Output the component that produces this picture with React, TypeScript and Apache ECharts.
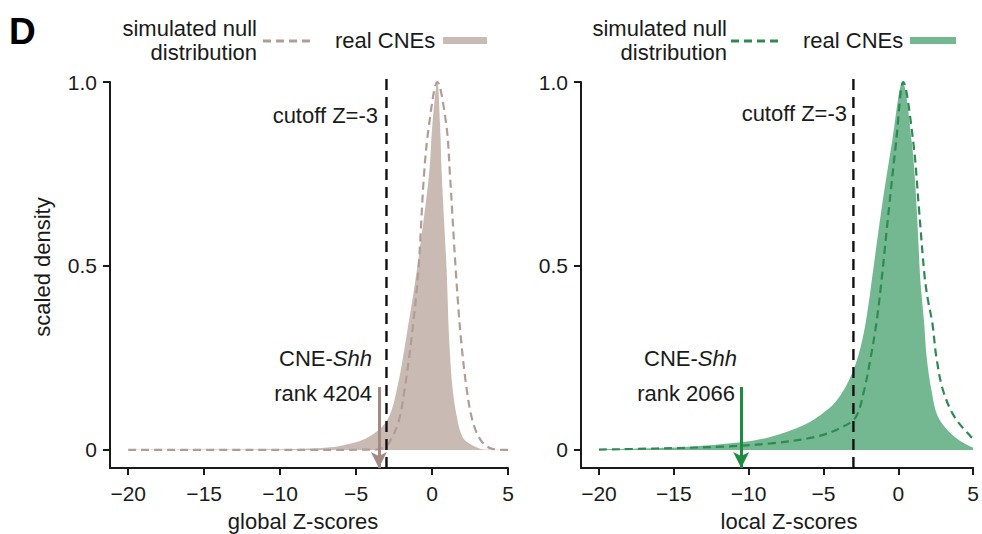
import React, { useEffect, useRef } from "react";
import * as echarts from "echarts";

// ---------- data ----------
const zTicks = [-20, -15, -10, -5, 0, 5];
const densityTicks = [0, 0.5, 1];
const zMin = -21.2;
const zMax = 5;
const densityMin = -0.049;
const densityMax = 1.0;

const cutoffZ = -3;
const cutoffTop = 1.01;

const globalShhZ = -3.5;
const globalShhRank = 4204;
const localShhZ = -10.5;
const localShhRank = 2066;
const arrowTopDensity = 0.171;

// global Z-scores: real CNEs (filled) [z, scaled density]
const globalReal: [number, number][] = [
  [-20, 0], [-15, 0.001], [-10, 0.002], [-8, 0.004], [-6.5, 0.008], [-5.5, 0.016],
  [-4.14, 0.036], [-2.94, 0.082], [-2.28, 0.172], [-1.69, 0.308], [-1.0, 0.489],
  [-0.2, 0.747], [0.02, 0.883], [0.35, 1.0], [0.53, 0.883], [0.64, 0.747],
  [0.96, 0.489], [1.12, 0.308], [1.34, 0.172], [1.67, 0.082], [2.0, 0.036],
  [2.43, 0.018], [3.0, 0.006], [3.5, 0.001], [5, 0],
];
// global Z-scores: simulated null distribution (dashed)
const globalNull: [number, number][] = [
  [-20, 0], [-10, 0], [-4, 0.001], [-3.16, 0.006], [-2.72, 0.027], [-2.17, 0.082],
  [-1.78, 0.172], [-1.34, 0.308], [-0.9, 0.489], [-0.53, 0.747], [-0.2, 0.883],
  [0.35, 1.0], [0.94, 0.883], [1.18, 0.747], [1.56, 0.489], [1.89, 0.308],
  [2.26, 0.172], [2.65, 0.082], [3.2, 0.027], [3.97, 0.003], [5, 0],
];
// local Z-scores: real CNEs (filled)
const localReal: [number, number][] = [
  [-20, 0.002], [-17.3, 0.004], [-14, 0.009], [-10.7, 0.02], [-8.5, 0.036],
  [-6.3, 0.068], [-5.2, 0.095], [-4.1, 0.135], [-3.05, 0.212], [-2.4, 0.3],
  [-2.0, 0.393], [-1.73, 0.474], [-1.12, 0.655], [-0.42, 0.836], [0.28, 1.0],
  [0.9, 0.836], [1.23, 0.655], [1.45, 0.474], [1.6, 0.4], [1.73, 0.343],
  [1.89, 0.253], [2.21, 0.163], [2.65, 0.09], [3.5, 0.045], [4.4, 0.018], [5, 0.006],
];
// local Z-scores: simulated null distribution (dashed)
const localNull: [number, number][] = [
  [-20, 0.001], [-16.2, 0.004], [-11.8, 0.009], [-8.5, 0.018], [-5.5, 0.036],
  [-3.7, 0.063], [-2.83, 0.09], [-2.28, 0.163], [-1.84, 0.253], [-1.47, 0.343],
  [-1.15, 0.45], [-0.63, 0.655], [-0.15, 0.836], [0.33, 1.0], [1.0, 0.836],
  [1.38, 0.655], [1.75, 0.474], [1.97, 0.41], [2.28, 0.343], [2.54, 0.253],
  [2.98, 0.163], [3.75, 0.09], [4.85, 0.036], [5, 0.033],
];

const legendNull = ["simulated null", "distribution"];
const legendReal = "real CNEs";
const cutoffLabel = "cutoff Z=-3";
const xNames = ["global Z-scores", "local Z-scores"];
const yName = "scaled density";
const panelLetter = "D";

// ---------- styles ----------
const FONT = '"Liberation Sans", Arial, Helvetica, sans-serif';
const INK = "#1a1a1a";
const brown = { fill: "#c9bbb4", dash: "#b09d97", arrow: "#a38b83" };
const green = { fill: "#74b891", dash: "#2e8a55", arrow: "#1f8b40" };

const fmtZ = (v: number) => (v < 0 ? "\u2212" + Math.abs(v) : String(v));
const fmtD = (v: number) => (v === 0 ? "0" : v.toFixed(1));

function xAxisFor(gridIndex: number) {
  return {
    type: "value",
    gridIndex,
    min: zMin,
    max: zMax,
    splitLine: { show: false },
    axisLine: { show: true, onZero: false, lineStyle: { color: INK, width: 2 } },
    axisTick: { show: true, length: 7, customValues: zTicks, lineStyle: { color: INK, width: 2 } },
    axisLabel: {
      customValues: zTicks,
      formatter: fmtZ,
      fontSize: 21,
      fontFamily: FONT,
      color: INK,
      margin: 15,
    },
  };
}
function yAxisFor(gridIndex: number) {
  return {
    type: "value",
    gridIndex,
    min: densityMin,
    max: densityMax,
    splitLine: { show: false },
    axisLine: { show: true, onZero: false, lineStyle: { color: INK, width: 2 } },
    axisTick: { show: true, length: 7, customValues: densityTicks, lineStyle: { color: INK, width: 2 } },
    axisLabel: {
      customValues: densityTicks,
      formatter: fmtD,
      fontSize: 21,
      fontFamily: FONT,
      color: INK,
      margin: 13,
    },
  };
}

function panelSeries(idx: number, real: [number, number][], nul: [number, number][], col: any, shhZ: number) {
  return [
    {
      type: "line",
      xAxisIndex: idx,
      yAxisIndex: idx,
      data: real,
      smooth: 0.35,
      symbol: "none",
      lineStyle: { width: 0, color: col.fill },
      areaStyle: { color: col.fill, opacity: 1 },
      clip: false,
      z: 1,
    },
    {
      type: "line",
      xAxisIndex: idx,
      yAxisIndex: idx,
      data: nul,
      smooth: 0.35,
      symbol: "none",
      lineStyle: { width: 2.2, color: col.dash, type: [8, 5] },
      clip: false,
      z: 3,
    },
    {
      type: "line",
      xAxisIndex: idx,
      yAxisIndex: idx,
      data: [
        [cutoffZ, densityMin],
        [cutoffZ, cutoffTop],
      ],
      symbol: "none",
      lineStyle: { width: 2.4, color: "#111", type: [11, 7] },
      clip: false,
      z: 4,
      markLine: {
        silent: true,
        symbol: ["none", "arrow"],
        symbolSize: [12, 16],
        label: { show: false },
        lineStyle: { color: col.arrow, width: 3, type: "solid" },
        emphasis: { disabled: true },
        data: [[{ coord: [shhZ, arrowTopDensity] }, { coord: [shhZ, densityMin] }]],
      },
    },
  ];
}

function txt(text: string, x: number, y: number, align = "left", extra: any = {}) {
  return {
    type: "text",
    x,
    y,
    silent: true,
    style: {
      text,
      fill: INK,
      font: `22px ${FONT}`,
      align,
      verticalAlign: "middle",
      ...extra,
    },
  };
}
function shhLabel(x: number, y: number) {
  return {
    type: "text",
    x,
    y,
    silent: true,
    style: {
      text: "{a|CNE-}{b|Shh}",
      align: "right",
      verticalAlign: "middle",
      fill: INK,
      rich: {
        a: { fontFamily: FONT, fontSize: 22, fill: INK },
        b: { fontFamily: FONT, fontSize: 22, fontStyle: "italic", fill: INK },
      },
    },
  };
}

export default function App() {
  const ref = useRef<HTMLDivElement>(null);
  useEffect(() => {
    if (!ref.current) return;
    const chart = echarts.init(ref.current, undefined, { renderer: "svg" });
    const option: any = {
      animation: false,
      backgroundColor: "#ffffff",
      textStyle: { fontFamily: FONT },
      grid: [
        { left: 110, top: 82, width: 398, height: 386 },
        { left: 581, top: 82, width: 398, height: 386 },
      ],
      xAxis: [xAxisFor(0), xAxisFor(1)],
      yAxis: [yAxisFor(0), yAxisFor(1)],
      series: [
        ...panelSeries(0, globalReal, globalNull, brown, globalShhZ),
        ...panelSeries(1, localReal, localNull, green, localShhZ),
      ],
      graphic: [
        txt(panelLetter, 9, 31, "left", { font: `bold 37px ${FONT}`, fill: "#000" }),
        // left legend
        txt(legendNull[0], 257, 28, "right"),
        txt(legendNull[1], 257, 52, "right"),
        {
          type: "line",
          silent: true,
          shape: { x1: 263, y1: 41, x2: 313, y2: 41 },
          style: { stroke: brown.dash, lineWidth: 3, lineDash: [8, 5] },
        },
        txt(legendReal, 335, 40, "left"),
        { type: "rect", silent: true, shape: { x: 443, y: 37, width: 44, height: 7 }, style: { fill: brown.fill } },
        // right legend
        txt(legendNull[0], 727, 28, "right"),
        txt(legendNull[1], 727, 52, "right"),
        {
          type: "line",
          silent: true,
          shape: { x1: 731, y1: 41, x2: 781, y2: 41 },
          style: { stroke: green.dash, lineWidth: 3, lineDash: [8, 5] },
        },
        txt(legendReal, 803, 40, "left"),
        { type: "rect", silent: true, shape: { x: 910, y: 37, width: 46, height: 7 }, style: { fill: green.fill } },
        // cutoff labels
        txt(cutoffLabel, 378, 115, "right"),
        txt(cutoffLabel, 847, 113, "right"),
        // CNE-Shh annotations
        shhLabel(372, 358),
        txt("rank " + globalShhRank, 372, 393, "right"),
        shhLabel(737, 358),
        txt("rank " + localShhRank, 735, 393, "right"),
        // axis titles
        txt(xNames[0], 303, 521, "center"),
        txt(xNames[1], 789, 521, "center"),
        {
          type: "text",
          x: 42,
          y: 267,
          rotation: Math.PI / 2,
          silent: true,
          style: { text: yName, fill: INK, font: `22px ${FONT}`, align: "center", verticalAlign: "middle" },
        },
      ],
    };
    chart.setOption(option);
    return () => chart.dispose();
  }, []);
  return (
    <div
      ref={ref}
      style={{ position: "fixed", left: 0, top: 0, width: 982, height: 534, background: "#fff" }}
    />
  );
}
